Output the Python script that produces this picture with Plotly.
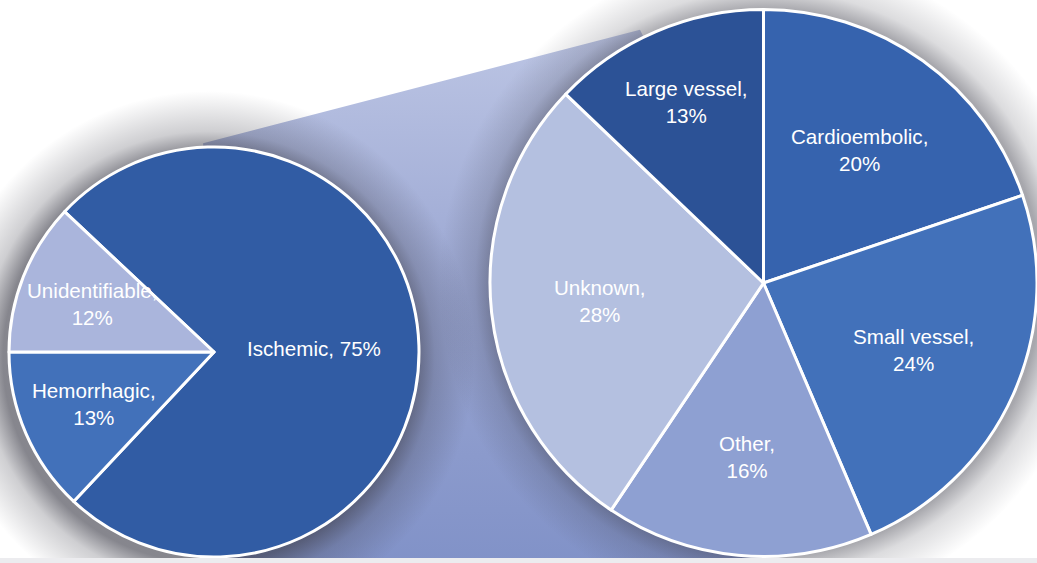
import numpy as np
import plotly.graph_objects as go

W, H = 1037, 563

# ---------------- data ----------------
left_labels = ["Ischemic", "Hemorrhagic", "Unidentifiable"]
left_values = [75, 13, 12]
left_colors = ["#315ca4", "#4271ba", "#aab5dc"]

right_labels = ["Cardioembolic", "Small vessel", "Other", "Unknown", "Large vessel"]
right_values = [20, 24, 16, 28, 13]
right_colors = ["#3663ae", "#4271ba", "#8ea0d2", "#b4c0e0", "#2c5296"]

# ---------------- geometry (pixels) ----------------
LCX, LCY, LR = 214, 352, 205
RCX, RCY, RR = 763.5, 283, 273.5
L_ROT = -46.8
R_ROT = 0

FONT = "Liberation Sans, Arial, sans-serif"
FSIZE = 20.6


def circle(cx, cy, r, n=240):
    t = np.linspace(0, 2 * np.pi, n)
    return cx + r * np.cos(t), cy + r * np.sin(t)


def label_positions(values, rot, cx, cy, r, fracs):
    tot = float(sum(values))
    out = []
    cum = 0.0
    for v, f in zip(values, fracs):
        th = np.radians(rot + (cum + v / 2) / tot * 360)
        out.append((cx + f * r * np.sin(th), cy - f * r * np.cos(th)))
        cum += v
    return out


fig = go.Figure()

# connector between the two pies
a1 = np.radians(93)
a2 = np.radians(116)
p1 = (LCX + 1.02 * LR * np.cos(a1), LCY - 1.02 * LR * np.sin(a1))
p2 = (RCX + 1.03 * RR * np.cos(a2), RCY - 1.03 * RR * np.sin(a2))
cx_ = [p1[0], p2[0], RCX, RCX, LCX, LCX, p1[0]]
cy_ = [p1[1], p2[1], RCY, H, H, LCY, p1[1]]
fig.add_trace(go.Scatter(
    x=cx_, y=cy_, mode="lines", fill="toself", line=dict(width=0),
    fillgradient=dict(type="vertical", start=30, stop=H,
                      colorscale=[[0, "#bcc5e4"], [0.5, "#9aa6d2"], [1, "#8192c8"]]),
    hoverinfo="skip", showlegend=False))

# soft shadows around the pies
for (hx, hy, r0, rh, col, a) in [(LCX - 6, LCY + 6, LR, LR + 62, "60,60,72", 0.62),
                                   (RCX + 4, RCY, RR, RR + 55, "60,60,72", 0.45)]:
    t0 = r0 / rh
    xs, ys = circle(hx, hy, rh)
    fig.add_trace(go.Scatter(
        x=xs, y=ys, mode="lines", fill="toself", line=dict(width=0),
        fillgradient=dict(type="radial", colorscale=[
            [0, f"rgba({col},{a})"], [t0, f"rgba({col},{a})"],
            [t0 + (1 - t0) * 0.35, f"rgba({col},{a * 0.4})"],
            [1, f"rgba({col},0)"]]),
        hoverinfo="skip", showlegend=False))

# pies
fig.add_trace(go.Pie(
    labels=left_labels, values=left_values, sort=False, direction="clockwise",
    rotation=L_ROT, marker=dict(colors=left_colors, line=dict(color="white", width=3)),
    textinfo="none", hoverinfo="label+percent", showlegend=False,
    domain=dict(x=[(LCX - LR) / W, (LCX + LR) / W],
                y=[(H - LCY - LR) / H, (H - LCY + LR) / H])))
fig.add_trace(go.Pie(
    labels=right_labels, values=right_values, sort=False, direction="clockwise",
    rotation=R_ROT, marker=dict(colors=right_colors, line=dict(color="white", width=3)),
    textinfo="none", hoverinfo="label+percent", showlegend=False,
    domain=dict(x=[(RCX - RR) / W, 1.0],
                y=[(H - RCY - RR) / H, (H - RCY + RR) / H])))

# labels
annotations = []
lpos = label_positions(left_values, L_ROT, LCX, LCY, LR, [0.49, 0.64, 0.64])
for lab, v, (x, y) in zip(left_labels, left_values, lpos):
    sep = " " if lab == "Ischemic" else "<br>"
    annotations.append(dict(x=x, y=y, xref="x", yref="y", text=f"{lab},{sep}{v}%",
                            showarrow=False, font=dict(family=FONT, size=FSIZE, color="white")))
rpos = label_positions(right_values, R_ROT, RCX, RCY, RR, [0.6, 0.6, 0.64, 0.6, 0.72])
for lab, v, (x, y) in zip(right_labels, right_values, rpos):
    annotations.append(dict(x=x, y=y, xref="x", yref="y", text=f"{lab},<br>{v}%",
                            showarrow=False, font=dict(family=FONT, size=FSIZE, color="white")))

fig.update_layout(
    width=W, height=H, margin=dict(l=0, r=0, t=0, b=0),
    paper_bgcolor="white", plot_bgcolor="white",
    xaxis=dict(range=[0, W], visible=False, fixedrange=True),
    yaxis=dict(range=[H, 0], visible=False, fixedrange=True),
    annotations=annotations,
    shapes=[dict(type="rect", xref="x", yref="y", x0=0, x1=W, y0=558, y1=H,
                 fillcolor="#ececef", line=dict(width=0), layer="above")],
)

fig.write_html("out.html")
